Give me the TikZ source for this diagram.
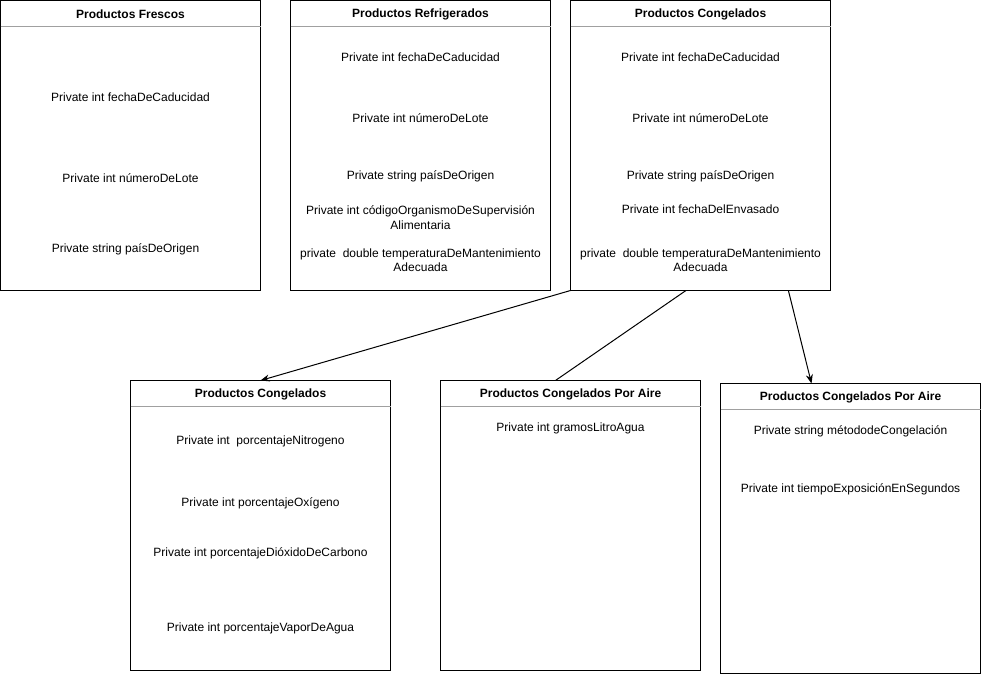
\documentclass[tikz,border=0pt]{standalone}
\usepackage{fontspec}
\setmainfont{Liberation Sans}
\usetikzlibrary{calc,arrows.meta}
\definecolor{sepgray}{RGB}{160,160,160}
\begin{document}
\begin{tikzpicture}[x=1pt,y=-1pt,
  box/.style={draw=black, line width=1pt, minimum width=260pt, minimum height=290pt, inner sep=0pt, outer sep=0pt},
  sep/.style={draw=sepgray, line width=1pt},
  ttl/.style={font=\fontsize{12}{14}\selectfont\bfseries, inner sep=0pt},
  txt/.style={font=\fontsize{12}{14.5}\selectfont, align=center, inner sep=0pt},
  conn/.style={draw=black, line width=1pt},
  arr/.style={conn, -{Stealth[length=9pt,width=7pt]}}]
\useasboundingbox (0,0) rectangle (981,675);
% top row
\node[box] (f) at (130.5,145.5) {};
\node[box] (r) at (420.5,145.5) {};
\node[box] (c) at (700.5,145.5) {};
% bottom row
\node[box] (b1) at (260.5,525.5) {};
\node[box] (b2) at (570.5,525.5) {};
\node[box] (b3) at (850.5,528.5) {};
% header separators
\foreach \n in {f,r,c,b1,b2,b3}{
  \draw[sep] ($(\n.north west)+(0,26)$) -- ($(\n.north east)+(0,26)$);
}
% titles
\node[ttl] (tf) at ($(f.north)+(0,13.5)$) {Productos Frescos};
\node[ttl] (tr) at ($(r.north)+(0,13.5)$) {Productos Refrigerados};
\node[ttl] (tc) at ($(c.north)+(0,13.5)$) {Productos Congelados};
\node[ttl] (tb1) at ($(b1.north)+(0,13.5)$) {Productos Congelados};
\node[ttl] (tb2) at ($(b2.north)+(0,13.5)$) {Productos Congelados Por Aire};
\node[ttl] (tb3) at ($(b3.north)+(0,13.5)$) {Productos Congelados Por Aire};
% box f
\node[txt] (f1) at (130.5,97.5) {Private int fechaDeCaducidad};
\node[txt] (f2) at (130.5,178.5) {Private int númeroDeLote};
\node[txt] (f3) at (125.5,249.5) {Private string paísDeOrigen};
% box r
\node[txt] (r1) at (420.5,57.5) {Private int fechaDeCaducidad};
\node[txt] (r2) at (420.5,118.5) {Private int númeroDeLote};
\node[txt] (r3) at (420.5,176.5) {Private string paísDeOrigen};
\node[txt] (r4) at (420.5,217.5) {Private int códigoOrganismoDeSupervisión\\Alimentaria};
\node[txt] (r5) at (420.5,260) {private\ \ double temperaturaDeMantenimiento\\Adecuada};
% box c
\node[txt] (c1) at (700.5,57.5) {Private int fechaDeCaducidad};
\node[txt] (c2) at (700.5,118.5) {Private int númeroDeLote};
\node[txt] (c3) at (700.5,176.5) {Private string paísDeOrigen};
\node[txt] (c4) at (700.5,209.5) {Private int fechaDelEnvasado};
\node[txt] (c5) at (700.5,260) {private\ \ double temperaturaDeMantenimiento\\Adecuada};
% box b1
\node[txt] (b11) at (260.5,441.5) {Private int\ \ porcentajeNitrogeno};
\node[txt] (b12) at (260.5,503.5) {Private int porcentajeOxígeno};
\node[txt] (b13) at (260.5,553.5) {Private int porcentajeDióxidoDeCarbono};
\node[txt] (b14) at (260.5,628.5) {Private int porcentajeVaporDeAgua};
% box b2
\node[txt] (b21) at (570.5,428.5) {Private int gramosLitroAgua};
% box b3
\node[txt] (b31) at (850.5,431.5) {Private string métododeCongelación};
\node[txt] (b32) at (850.5,489.5) {Private int tiempoExposiciónEnSegundos};
% connectors
\coordinate (s2) at ($(c.south west)!0.444!(c.south east)$);
\coordinate (s3) at ($(c.south west)!0.838!(c.south east)$);
\coordinate (e2) at ($(b2.north west)!0.442!(b2.north east)$);
\coordinate (e3) at ($(b3.north west)!0.35!(b3.north east)$);
\draw[arr] (c.south west) -- (b1.north);
\draw[conn] (s2) -- (e2);
\draw[arr] (s3) -- (e3);
\end{tikzpicture}
\end{document}
